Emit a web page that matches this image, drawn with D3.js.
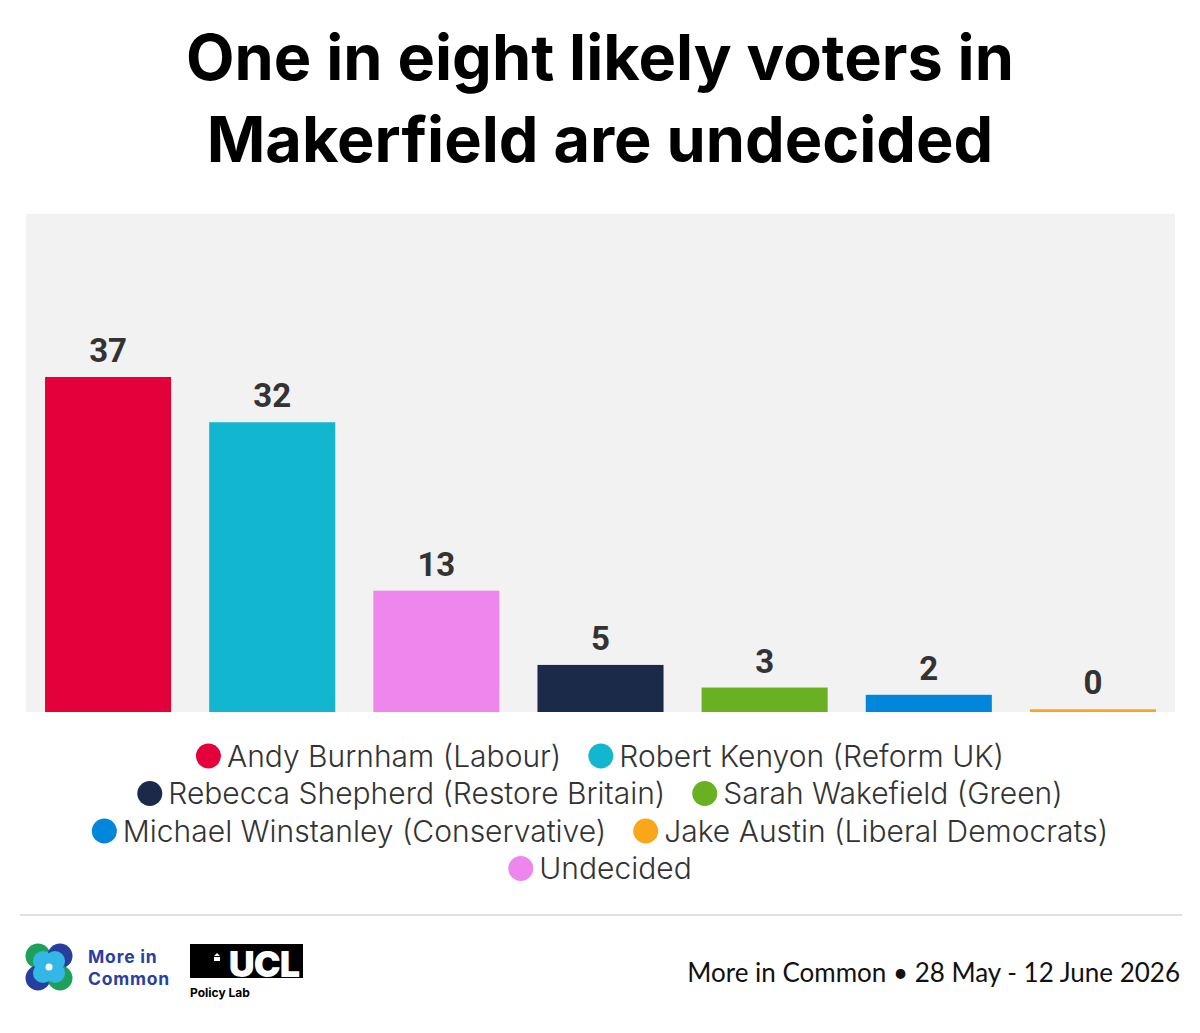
<!DOCTYPE html>
<html>
<head>
<meta charset="utf-8">
<script src="https://cdn.jsdelivr.net/npm/d3@7"></script>
<style>
  body { margin: 0; background: #fff; }
  svg { display: block; }
</style>
</head>
<body>
<svg id="chart" width="1200" height="1033"></svg>
<script>
// data (bar heights, labels are rounded)
var candidates = ["Andy Burnham", "Robert Kenyon", "Undecided", "Rebecca Shepherd", "Sarah Wakefield", "Michael Winstanley", "Jake Austin"]
var shares = [37, 32, 13.4, 5.2, 2.7, 1.9, 0.3]
var barColors = ["#e4003b", "#12b6cf", "#ee86ee", "#1c2a4a", "#6ab023", "#0087dc", "#faa61a"]
var legendLabels = ["Andy Burnham (Labour)", "Robert Kenyon (Reform UK)", "Rebecca Shepherd (Restore Britain)", "Sarah Wakefield (Green)", "Michael Winstanley (Conservative)", "Jake Austin (Liberal Democrats)", "Undecided"]
var legendColors = ["#e4003b", "#12b6cf", "#1c2a4a", "#6ab023", "#0087dc", "#faa61a", "#ee86ee"]
var titleLines = ["One in eight likely voters in", "Makerfield are undecided"]
var sourceText = "More in Common \u2022 28 May - 12 June 2026"

var svg = d3.select("#chart")
var titleFont = "Inter, 'Open Sans', sans-serif"
var bodyFont = "Inter, 'Open Sans', sans-serif"
var fmt = d3.format(".0f")

// title
svg.append("g").selectAll("text")
    .data(titleLines)
    .join("text")
    .attr("x", 600)
    .attr("y", (d, i) => 80 + i * 82)
    .attr("text-anchor", "middle")
    .attr("font-family", titleFont)
    .attr("font-weight", 700)
    .attr("font-size", 63)
    .attr("fill", "#000")
    .text(d => d)

// plot area
var plot = {left: 26, right: 1175, top: 214, bottom: 712}
svg.append("rect")
    .attr("x", plot.left).attr("y", plot.top)
    .attr("width", plot.right - plot.left)
    .attr("height", plot.bottom - plot.top)
    .attr("fill", "#f2f2f2")

var x = d3.scaleBand()
    .domain(candidates)
    .range([plot.left, plot.right])
    .paddingInner(0.232)
    .paddingOuter(0.116)
var y = d3.scaleLinear()
    .domain([0, 55])
    .range([plot.bottom, plot.top])

var bars = candidates.map((c, i) => ({name: c, value: shares[i], color: barColors[i]}))

svg.append("g").selectAll("rect")
    .data(bars)
    .join("rect")
    .attr("x", d => x(d.name))
    .attr("width", x.bandwidth())
    .attr("y", d => y(d.value))
    .attr("height", d => plot.bottom - y(d.value))
    .attr("fill", d => d.color)

svg.append("g").selectAll("text")
    .data(bars)
    .join("text")
    .attr("x", d => x(d.name) + x.bandwidth() / 2)
    .attr("y", d => y(d.value) - 15)
    .attr("text-anchor", "middle")
    .attr("font-family", "Roboto, sans-serif")
    .attr("font-weight", 700)
    .attr("font-size", 33)
    .attr("fill", "#333")
    .text(d => fmt(d.value))

// legend, wrapped and centred
var legend = svg.append("g")
var items = legendLabels.map((l, i) => {
    var g = legend.append("g")
    g.append("circle").attr("r", 12.5).attr("cx", 12.5).attr("cy", 0).attr("fill", legendColors[i])
    var t = g.append("text")
        .attr("x", 31)
        .attr("y", 10.5)
        .attr("font-family", bodyFont)
        .attr("font-weight", 300)
        .attr("font-size", 30)
        .attr("fill", "#333")
        .text(l)
    return {g: g, w: 31 + t.node().getComputedTextLength()}
})
var gap = 27, maxW = 1140
var rows = [[]], rowW = [0]
items.forEach(it => {
    var r = rows.length - 1
    var nw = rowW[r] + (rows[r].length ? gap : 0) + it.w
    if (rows[r].length && nw > maxW) { rows.push([it]); rowW.push(it.w) }
    else { rows[r].push(it); rowW[r] = nw }
})
rows.forEach((row, ri) => {
    var cx = 600 - rowW[ri] / 2
    row.forEach(it => {
        it.g.attr("transform", `translate(${cx},${756 + ri * 37.5})`)
        cx += it.w + gap
    })
})

// footer rule
svg.append("line")
    .attr("x1", 20).attr("x2", 1182)
    .attr("y1", 915).attr("y2", 915)
    .attr("stroke", "#d6d6d6").attr("stroke-width", 1.5)

svg.append("text")
    .attr("x", 1180).attr("y", 982)
    .attr("text-anchor", "end")
    .attr("font-family", "Lato, sans-serif")
    .attr("font-size", 26)
    .attr("fill", "#111")
    .text(sourceText)

// More in Common logo
var logo = svg.append("g").attr("transform", "translate(49,967)")
var blobs = [[-11, -11, "#1fa05a"], [11, -11, "#263f9c"], [-11, 11, "#263f9c"], [11, 11, "#1fa05a"]]
logo.selectAll("circle.b").data(blobs).join("circle")
    .attr("cx", d => d[0]).attr("cy", d => d[1]).attr("r", 12.5).attr("fill", d => d[2])
logo.selectAll("circle.c").data(blobs).join("circle")
    .attr("cx", d => d[0] * 0.55).attr("cy", d => d[1] * 0.55).attr("r", 10).attr("fill", "#32b7e6")
logo.append("circle").attr("r", 3.5).attr("fill", "#fff")
svg.append("g").selectAll("text")
    .data(["More in", "Common"])
    .join("text")
    .attr("x", 88).attr("y", (d, i) => 963 + i * 21.5)
    .attr("font-family", "Inter, sans-serif")
    .attr("font-weight", 700)
    .attr("font-size", 17.5)
    .attr("letter-spacing", 0.8)
    .attr("fill", "#2a3f9f")
    .text(d => d)

// UCL logo
svg.append("rect").attr("x", 190).attr("y", 944).attr("width", 113).attr("height", 34).attr("fill", "#000")
svg.append("text")
    .attr("x", 299).attr("y", 977)
    .attr("text-anchor", "end")
    .attr("font-family", "Inter, sans-serif")
    .attr("font-weight", 900)
    .attr("font-size", 36)
    .attr("fill", "#fff")
    .attr("letter-spacing", -1)
    .text("UCL")
svg.append("path")
    .attr("d", "M214,956 l3,-3 l3,3 z M214,957 h6 v4 h-6 z")
    .attr("fill", "#fff")
svg.append("text")
    .attr("x", 190).attr("y", 997)
    .attr("font-family", "Inter, sans-serif")
    .attr("font-weight", 700)
    .attr("font-size", 12)
    .attr("fill", "#000")
    .text("Policy Lab")
</script>
</body>
</html>
